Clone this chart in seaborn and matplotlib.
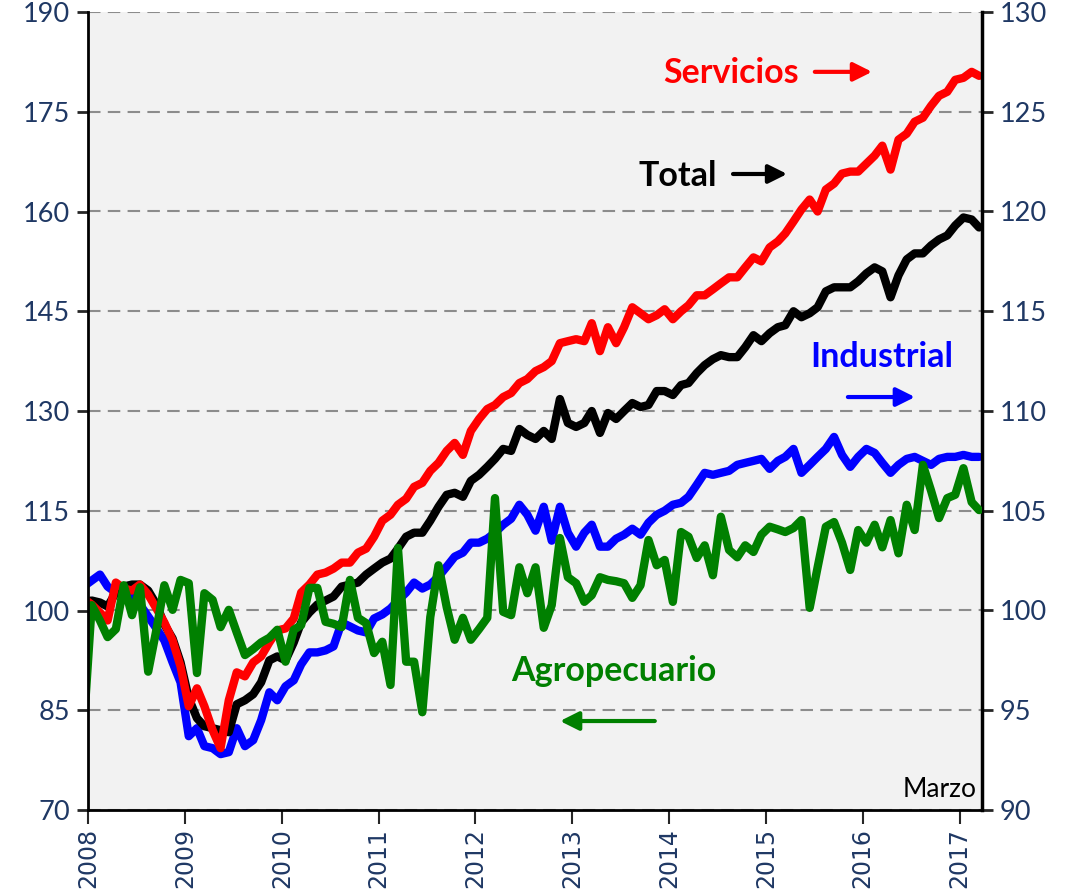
"""Indices de actividad por sector (Agropecuario, Industrial, Servicios, Total)"""

import pandas as pd
import seaborn as sns
import matplotlib.pyplot as plt
import matplotlib.dates as mdates

# Monthly data, Dec 2007 - Mar 2017 (points at mid-month)
fechas = pd.date_range("2007-12-01", "2017-03-01", freq="MS") + pd.Timedelta(days=14)

# Left axis
agropecuario = [
    82.0, 100.8, 98.5, 96.0, 97.2, 103.8, 99.3, 103.5, 90.8, 97.1, 103.8, 100.1, 104.6,
    104.1, 90.6, 102.6, 101.6, 97.5, 100.1, 96.7, 93.3, 94.2, 95.2, 95.9, 97.1,
    92.3, 97.1, 97.8, 103.4, 103.4, 98.3, 98.0, 97.5, 104.6, 98.9, 98.1, 93.6,
    95.3, 88.8, 109.4, 92.3, 92.3, 84.7, 99.0, 106.8, 100.5, 95.6, 98.9, 95.6,
    97.2, 98.9, 116.9, 99.8, 99.3, 106.5, 102.6, 106.5, 97.4, 100.8, 110.9, 105.0,
    104.1, 101.3, 102.3, 105.0, 104.6, 104.4, 104.1, 101.9, 103.8, 110.6, 106.8, 107.6,
    101.3, 111.8, 111.1, 107.9, 109.8, 105.3, 114.1, 109.1, 108.0, 109.8, 108.8, 111.4,
    112.6, 112.2, 111.8, 112.4, 113.6, 100.4, 106.5, 112.6, 113.3, 110.2, 106.1, 112.1,
    110.2, 112.9, 109.5, 113.6, 108.6, 115.9, 112.1, 121.9, 118.0, 113.9, 116.9, 117.4,
    121.4, 116.3, 115.1,
]

# Right axis
total = [
    100.4, 100.5, 100.4, 100.2, 100.9, 101.2, 101.3, 101.3, 101.0, 100.3, 99.3, 98.6, 97.4,
    95.6, 94.6, 94.2, 94.1, 94.0, 93.9, 95.3, 95.5, 95.8, 96.4, 97.5, 97.7,
    97.5, 98.4, 99.4, 99.9, 100.3, 100.5, 100.7, 101.2, 101.3, 101.4, 101.8, 102.1,
    102.4, 102.6, 103.1, 103.7, 103.9, 103.9, 104.5, 105.2, 105.8, 105.9, 105.7, 106.5,
    106.8, 107.2, 107.6, 108.1, 108.0, 109.1, 108.8, 108.6, 109.0, 108.6, 110.6, 109.4,
    109.2, 109.4, 110.0, 108.9, 109.9, 109.6, 110.0, 110.4, 110.2, 110.3, 111.0, 111.0,
    110.8, 111.3, 111.4, 111.9, 112.3, 112.6, 112.8, 112.7, 112.7, 113.2, 113.8, 113.5,
    113.9, 114.2, 114.3, 115.0, 114.7, 114.9, 115.2, 116.0, 116.2, 116.2, 116.2, 116.5,
    116.9, 117.2, 117.0, 115.7, 116.8, 117.6, 117.9, 117.9, 118.3, 118.6, 118.8, 119.3,
    119.7, 119.6, 119.2,
]

servicios = [
    100.6, 100.3, 99.9, 99.5, 101.4, 101.1, 101.0, 101.3, 100.8, 100.1, 99.4, 98.5, 97.2,
    95.2, 96.1, 95.2, 94.0, 93.1, 95.5, 96.9, 96.7, 97.4, 97.7, 98.4, 99.0,
    99.1, 99.6, 100.9, 101.3, 101.8, 101.9, 102.1, 102.4, 102.4, 102.9, 103.1, 103.7,
    104.5, 104.8, 105.3, 105.6, 106.2, 106.4, 107.0, 107.4, 108.0, 108.4, 107.8, 109.0,
    109.6, 110.1, 110.3, 110.7, 110.9, 111.4, 111.6, 112.0, 112.2, 112.5, 113.4, 113.5,
    113.6, 113.5, 114.4, 113.0, 114.2, 113.4, 114.2, 115.2, 114.9, 114.6, 114.8, 115.1,
    114.6, 115.0, 115.3, 115.8, 115.8, 116.1, 116.4, 116.7, 116.7, 117.2, 117.7, 117.5,
    118.2, 118.5, 118.9, 119.5, 120.1, 120.6, 120.0, 121.1, 121.4, 121.9, 122.0, 122.0,
    122.4, 122.8, 123.3, 122.1, 123.6, 123.9, 124.5, 124.7, 125.3, 125.8, 126.0, 126.6,
    126.7, 127.0, 126.8,
]

industrial = [
    101.2, 101.5, 101.8, 101.2, 100.9, 100.9, 100.7, 100.3, 99.7, 99.1, 98.5, 97.4, 96.4,
    93.7, 94.1, 93.2, 93.1, 92.8, 92.9, 94.1, 93.2, 93.5, 94.5, 95.9, 95.5,
    96.2, 96.5, 97.3, 97.9, 97.9, 98.0, 98.2, 99.4, 99.2, 99.0, 98.9, 99.6,
    99.8, 100.1, 100.5, 100.9, 101.4, 101.1, 101.3, 101.7, 102.2, 102.7, 102.9, 103.4,
    103.4, 103.6, 103.9, 104.3, 104.6, 105.3, 104.8, 104.0, 105.2, 103.5, 105.2, 103.9,
    103.2, 103.9, 104.3, 103.2, 103.2, 103.6, 103.8, 104.1, 103.8, 104.4, 104.8, 105.0,
    105.3, 105.4, 105.7, 106.3, 106.9, 106.8, 106.9, 107.0, 107.3, 107.4, 107.5, 107.6,
    107.1, 107.5, 107.7, 108.1, 106.9, 107.3, 107.7, 108.1, 108.7, 107.8, 107.2, 107.7,
    108.1, 107.9, 107.4, 106.9, 107.3, 107.6, 107.7, 107.5, 107.3, 107.6, 107.7, 107.7,
    107.8, 107.7, 107.7,
]

left_ticks = [70, 85, 100, 115, 130, 145, 160, 175, 190]
right_ticks = [90, 95, 100, 105, 110, 115, 120, 125, 130]

colores = {"Industrial": "#0000ff", "Total": "#000000", "Servicios": "#ff0000"}
verde = "#008000"
navy = "#1f3864"

df_agro = pd.DataFrame({"fecha": fechas, "valor": agropecuario})
df_der = pd.concat(
    [
        pd.DataFrame({"fecha": fechas, "valor": industrial, "serie": "Industrial"}),
        pd.DataFrame({"fecha": fechas, "valor": total, "serie": "Total"}),
        pd.DataFrame({"fecha": fechas, "valor": servicios, "serie": "Servicios"}),
    ],
    ignore_index=True,
)

sns.set_style("white")
plt.rcParams["font.family"] = ["Lato", "DejaVu Sans"]

fig = plt.figure(figsize=(10.68, 8.96), dpi=100)
ax = fig.add_axes([88 / 1068, 1 - 810 / 896, 894 / 1068, 798 / 896])
ax2 = ax.twinx()

# right-axis series and background / grid on ax2
ax2.set_facecolor("#f2f2f2")
ax2.patch.set_visible(True)
sns.lineplot(
    data=df_der, x="fecha", y="valor", hue="serie",
    hue_order=["Industrial", "Total", "Servicios"], palette=colores,
    linewidth=6, legend=False, ax=ax2,
)
ax2.set_ylim(90, 130)
ax2.set_yticks(right_ticks)
ax2.yaxis.grid(True, color="#8c8c8c", linestyle=(0, (6, 3.5)), linewidth=1.5)
ax2.set_axisbelow(True)

# left-axis series on top
ax.set_zorder(ax2.get_zorder() + 1)
ax.patch.set_visible(False)
sns.lineplot(data=df_agro, x="fecha", y="valor", color=verde, linewidth=6, ax=ax)
ax.set_ylim(70, 190)
ax.set_yticks(left_ticks)

ax.set_xlim(pd.Timestamp("2008-01-01"), pd.Timestamp("2017-03-26"))
ax.xaxis.set_major_locator(mdates.YearLocator())
ax.xaxis.set_major_formatter(mdates.DateFormatter("%Y"))

for a in (ax, ax2):
    a.set_xlabel("")
    a.set_ylabel("")
    a.spines["top"].set_visible(False)
    a.tick_params(axis="y", direction="out", length=8, width=2, labelsize=19.5,
                  labelcolor=navy, pad=5)
ax.spines["right"].set_visible(False)
ax2.spines["left"].set_visible(False)
ax2.spines["bottom"].set_visible(False)
ax.spines["left"].set_linewidth(2)
ax.spines["bottom"].set_linewidth(2)
ax2.spines["right"].set_linewidth(2.5)
for s in (ax.spines["left"], ax.spines["bottom"], ax2.spines["right"]):
    s.set_color("black")
ax.tick_params(axis="y", left=True, right=False)
ax2.tick_params(axis="y", right=True, left=False)
ax.tick_params(axis="x", direction="out", length=10, width=1.5, bottom=True,
               labelsize=17, labelcolor=navy, pad=3, labelrotation=90)
for lbl in ax.get_xticklabels():
    lbl.set_family("DejaVu Sans")

# series labels with arrows
etiquetas = [
    ("Servicios", "#ff0000", (0.719, 0.924), (0.813, 0.925), (0.877, 0.925)),
    ("Total", "#000000", (0.660, 0.794), (0.7215, 0.797), (0.782, 0.797)),
    ("Industrial", "#0000ff", (0.888, 0.568), (0.850, 0.5175), (0.925, 0.5175)),
    ("Agropecuario", verde, (0.588, 0.174), (0.634, 0.1115), (0.528, 0.1115)),
]
for texto, col, pos, ini, fin in etiquetas:
    ax.text(pos[0], pos[1], texto, transform=ax.transAxes, color=col,
            fontsize=24.5, fontweight="bold", ha="center", va="center")
    ax.annotate("", xy=fin, xytext=ini, xycoords="axes fraction",
                textcoords="axes fraction",
                arrowprops=dict(arrowstyle="-|>,head_length=0.7,head_width=0.35",
                                color=col, lw=3, mutation_scale=16,
                                shrinkA=0, shrinkB=0))

ax.text(0.994, 0.010, "Marzo", transform=ax.transAxes, ha="right", va="bottom",
        fontsize=19, color="black")

fig.savefig("out.png", dpi=100)
